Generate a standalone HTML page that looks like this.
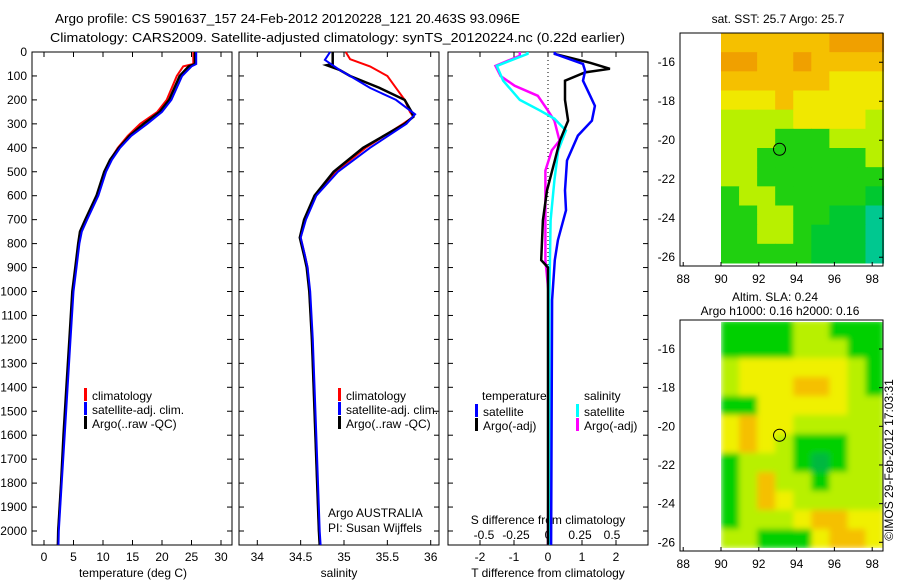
<!DOCTYPE html>
<html><head><meta charset="utf-8"><style>
body{margin:0;background:#fff;}
svg text{font-family:"Liberation Sans",sans-serif;font-size:12px;fill:#000;}
</style></head><body>
<svg id="s" width="900" height="580" xmlns="http://www.w3.org/2000/svg">
<defs>
<filter id="blur" x="-10%" y="-10%" width="120%" height="120%"><feGaussianBlur stdDeviation="3"/></filter>
<clipPath id="slaClip"><rect x="721" y="322" width="162" height="226"/></clipPath>
</defs>
<rect width="900" height="580" fill="#fff"/>
<text x="55" y="23" style="font-size:13px" textLength="465" lengthAdjust="spacingAndGlyphs">Argo profile: CS 5901637_157 24-Feb-2012 20120228_121 20.463S 93.096E</text>
<text x="50" y="42" style="font-size:13px" textLength="575" lengthAdjust="spacingAndGlyphs">Climatology: CARS2009. Satellite-adjusted climatology: synTS_20120224.nc (0.22d earlier)</text>
<g id="g"></g>
</svg>
<script>
// ---- data ----
const tempDepth=[0,50,60,100,200,250,300,350,400,450,500,600,700,750,800,900,1000,1200,1400,1600,1800,2000,2058];
const tempClim=[25.3,25.3,23.6,22.5,20.8,19.2,16.3,14.2,12.5,11.2,10.3,9.0,7.0,6.1,5.8,5.4,4.9,4.4,3.9,3.4,2.9,2.4,2.35];
const tempArgo=[25.6,25.6,24.5,23.0,21.2,19.6,16.9,14.5,12.7,11.2,10.2,8.9,7.0,6.1,5.8,5.3,4.8,4.3,3.8,3.3,2.9,2.4,2.35];
const tempSat=[25.8,25.8,25.0,23.4,21.6,20.0,17.5,14.8,12.9,11.5,10.5,9.2,7.3,6.4,6.0,5.5,5.0,4.5,4.0,3.5,3.0,2.5,2.45];
const salDepth=[0,30,60,100,150,200,250,270,300,400,500,600,700,775,850,900,1000,1200,1600,2000,2058];
const salClim=[35.02,35.07,35.3,35.5,35.6,35.7,35.76,35.8,35.68,35.25,34.9,34.67,34.55,34.5,34.55,34.58,34.6,34.63,34.67,34.71,34.72];
const salArgoD=[0,50,55,75,100,150,200,250,270,300,400,500,600,700,775,850,900,1000,1200,1600,2000,2058];
const salArgo=[34.87,34.87,34.8,34.95,35.07,35.41,35.7,35.78,35.8,35.7,35.22,34.88,34.66,34.54,34.49,34.54,34.57,34.6,34.63,34.67,34.71,34.72];
const salSatD=[0,33,75,100,150,200,260,300,400,500,600,700,775,850,900,1000,1200,1600,2000,2058];
const salSat=[34.84,34.78,34.95,35.07,35.3,35.6,35.82,35.72,35.3,34.93,34.68,34.56,34.5,34.55,34.58,34.61,34.64,34.68,34.72,34.73];
const dtSatD=[0,8,50,79,120,183,225,287,349,453,578,661,786,869,1035,2058];
const dtSat=[0.2,0.2,1.03,1.09,1.03,1.24,1.38,1.29,0.88,0.56,0.5,0.53,0.29,0.2,0.12,0.09];
const dtArgoD=[0,8,45,70,85,120,200,287,370,453,578,703,869,900,1035,2058];
const dtArgo=[0.2,0.2,1.24,1.82,1.09,0.5,0.5,0.59,0.35,0.2,-0.03,-0.15,-0.2,0,0,0];
const dsSatD=[0,8,58,120,200,245,278,328,411,536,703,1035,2058];
const dsSat=[-0.16,-0.16,-0.4,-0.35,-0.22,-0.06,0.05,0.14,0.08,0.05,0.02,0.01,0.01];
const dsArgoD=[0,16,58,100,141,183,245,287,370,411,495,620,869,1035,2058];
const dsArgo=[-0.22,-0.22,-0.41,-0.37,-0.26,-0.08,0,0.05,0.09,0.03,-0.02,-0.02,-0.02,0.01,0];
const depthTicks=[0,100,200,300,400,500,600,700,800,900,1000,1100,1200,1300,1400,1500,1600,1700,1800,1900,2000];
const tempTicks=[0,5,10,15,20,25,30];
const salTicks=[34,34.5,35,35.5,36];
const dtTicks=[-2,-1,0,1,2];
const dsTicks=[-0.5,-0.25,0,0.25,0.5];
const dsTickLabels=["-0.5","-0.25","0","0.25","0.5"];
const lonTicks=[88,90,92,94,96,98];
const latTicks=[-16,-18,-20,-22,-24,-26];
const sstGrid=[
[1,1,1,1,1,1,0,0,0],[0,0,1,1,0,1,1,1,1],[1,1,1,1,1,1,2,2,2],[2,2,2,1,2,2,2,2,2],
[3,3,3,3,2,2,2,2,3],[3,3,3,4,4,4,3,3,3],[3,3,4,4,4,4,4,4,3],[3,3,4,4,4,4,4,4,4],
[4,3,3,4,4,4,4,4,5],[4,4,3,3,4,4,5,5,6],[4,4,3,3,4,5,5,5,6],[4,4,4,4,4,5,5,5,6]];
const slaGrid=[
[4,4,4,4,3,3,4,4,4],[4,4,4,4,3,3,3,4,4],[3,2,2,2,2,2,2,3,4],[3,2,2,2,1,1,2,3,4],
[4,4,2,2,2,2,2,3,3],[2,1,2,2,3,3,3,3,3],[2,1,2,3,4,4,4,3,3],[4,3,3,3,4,5,4,3,3],
[4,3,1,3,3,4,3,3,3],[4,3,1,2,3,3,3,3,3],[4,3,3,3,2,1,1,2,2],[3,3,4,4,4,2,1,1,2]];
const argoLon=93.096, argoLat=-20.463;
// ---- drawing ----
const NS="http://www.w3.org/2000/svg";const G=document.getElementById('g');
function mk(t,a,p){const e=document.createElementNS(NS,t);for(const k in a)e.setAttribute(k,a[k]);(p||G).appendChild(e);return e;}
function txt(x,y,s,anchor,name,extra){const e=mk('text',Object.assign({x:x,y:y,'text-anchor':anchor||'start'},extra||{}));e.textContent=s;


return e;}
const top0=52,bot=545;const yD=d=>top0+d*0.2395;
const panels=[{l:32,r:232},{l:239,r:439},{l:448,r:648}];
const xT=v=>44+v*5.9, xS=v=>257.3+(v-34)*86.7, xDT=v=>548+v*34, xDS=v=>548+v*128;
function line(ds,vs,fx,col,name,w){let p=ds.map((d,i)=>fx(vs[i]).toFixed(1)+','+yD(d).toFixed(1)).join(' ');
const e=mk('polyline',{points:p,fill:'none',stroke:col,'stroke-width':w||2.5});

}
panels.forEach((p,i)=>{const r=mk('rect',{x:p.l,y:top0,width:p.r-p.l,height:bot-top0,fill:'none',stroke:'#000','stroke-width':1});


depthTicks.forEach(d=>{mk('line',{x1:p.l,x2:p.l+5,y1:yD(d),y2:yD(d),stroke:'#000'});mk('line',{x1:p.r,x2:p.r-5,y1:yD(d),y2:yD(d),stroke:'#000'});});});
depthTicks.forEach(d=>txt(27,yD(d)+4,String(d),'end','depth-tick-label'));
function xticks(ticks,fx,labels,name){ticks.forEach((t,i)=>{const x=fx(t);mk('line',{x1:x,x2:x,y1:bot,y2:bot-5,stroke:'#000'});mk('line',{x1:x,x2:x,y1:top0,y2:top0+5,stroke:'#000'});
if(labels)txt(x,561,labels[i],'middle',name);});}
xticks(tempTicks,xT,tempTicks.map(String),'temperature-tick-label');
xticks(salTicks,xS,salTicks.map(String),'salinity-tick-label');
xticks(dtTicks,xDT,dtTicks.map(String),'t-diff-tick-label');
dsTicks.forEach((t,i)=>txt(xDS(t),539,dsTickLabels[i],'middle','s-diff-tick-label'));
txt(133,577,'temperature (deg C)','middle','x-axis-title-temperature');
txt(339,577,'salinity','middle','x-axis-title-salinity');
txt(548,577,'T difference from climatology','middle','x-axis-title-t-diff');
txt(548,524,'S difference from climatology','middle','s-diff-axis-title');
const z=mk('line',{x1:548,x2:548,y1:top0,y2:bot,stroke:'#000','stroke-dasharray':'1,3'});


line(tempDepth,tempClim,xT,'#f00','temp-climatology-line',2);
line(tempDepth,tempArgo,xT,'#000','temp-argo-line',2.5);
line(tempDepth,tempSat,xT,'#00f','temp-satellite-line',2);
line(salDepth,salClim,xS,'#f00','sal-climatology-line',2);
line(salArgoD,salArgo,xS,'#000','sal-argo-line',2.5);
line(salSatD,salSat,xS,'#00f','sal-satellite-line',2);
line(dsArgoD,dsArgo,xDS,'#f0f','s-diff-argo-line');
line(dsSatD,dsSat,xDS,'#0ff','s-diff-satellite-line');
line(dtArgoD,dtArgo,xDT,'#000','t-diff-argo-line');
line(dtSatD,dtSat,xDT,'#00f','t-diff-satellite-line');
function leg(x,y,col,s){const b=mk('rect',{x:x,y:y-10,width:3,height:13,fill:col});


txt(x+8,y+2,s,'start','legend-entry');}
[84,338].forEach(x=>{leg(x,398,'#f00','climatology');leg(x,412,'#00f','satellite-adj. clim.');leg(x,426,'#000','Argo(..raw -QC)');});
txt(482,400,'temperature','start','legend-heading-temperature');
txt(584,400,'salinity','start','legend-heading-salinity');
leg(475,414,'#00f','satellite');leg(475,428,'#000','Argo(-adj)');
leg(576,414,'#0ff','satellite');leg(576,428,'#f0f','Argo(-adj)');
txt(328,517,'Argo AUSTRALIA','start','float-owner');
txt(328,532,'PI: Susan Wijffels','start','principal-investigator');
// maps
const sstCols=['#f0a000','#f5c000','#f0e800','#b8f000','#20d010','#00c830','#00c890'];
const slaCols=['#f09000','#f5c000','#f0f000','#b8f000','#00d000','#00b840'];
const lon0=90,lonR=98.6,latT=-14.5,latB=-26.45;
function map(y0,y1,grid,cols,name,blur){
const xL=680,xR=883,lx=v=>721+(v-90)*18.9,ly=v=>y0+(latT-v)*(y1-y0)/(latT-latB);
const f=mk('rect',{x:xL,y:y0,width:xR-xL,height:y1-y0,fill:'#fff',stroke:'#000'});


const dataB=y1-3;
const grp=mk('g',blur?{'clip-path':'url(#slaClip)'}:{});
const inner=mk('g',blur?{filter:'url(#blur)'}:{},grp);
const nr=grid.length,nc=grid[0].length,dlon=(lonR-lon0)/nc;
const yy=r=>y0+(dataB-y0)*r/nr;
grid.forEach((row,r)=>row.forEach((v,c)=>{const x1=lx(lon0+c*dlon),x2=lx(lon0+(c+1)*dlon);
const e=mk('rect',{x:x1,y:yy(r),width:x2-x1+0.5,height:yy(r+1)-yy(r)+0.5,fill:cols[v]},inner);

}));
mk('rect',{x:xL,y:y0,width:xR-xL,height:y1-y0,fill:'none',stroke:'#000'});
lonTicks.forEach(t=>{const x=lx(t);mk('line',{x1:x,x2:x,y1:y1,y2:y1-4,stroke:'#000'});txt(x,y1+17,String(t),'middle',name+'-lon-label');});
latTicks.forEach(t=>{const y=ly(t);mk('line',{x1:xR,x2:xR-4,y1:y,y2:y,stroke:'#000'});txt(675,y+4,String(t),'end',name+'-lat-label');});
const c=mk('circle',{cx:lx(argoLon),cy:ly(argoLat),r:6,fill:'none',stroke:'#000'});

}
map(33,266,sstGrid,sstCols,'sst-map',false);
map(320,551,slaGrid,slaCols,'sla-map',true);
txt(778,23,'sat. SST: 25.7 Argo: 25.7','middle','sst-map-title');
txt(775,301,'Altim. SLA: 0.24','middle','sla-map-title-1');
txt(780,315,'Argo h1000: 0.16 h2000: 0.16','middle','sla-map-title-2');
txt(0,0,'©IMOS 29-Feb-2012 17:03:31','middle','imos-credit',{transform:'translate(893,460) rotate(-90)'});
</script>
</body></html>
